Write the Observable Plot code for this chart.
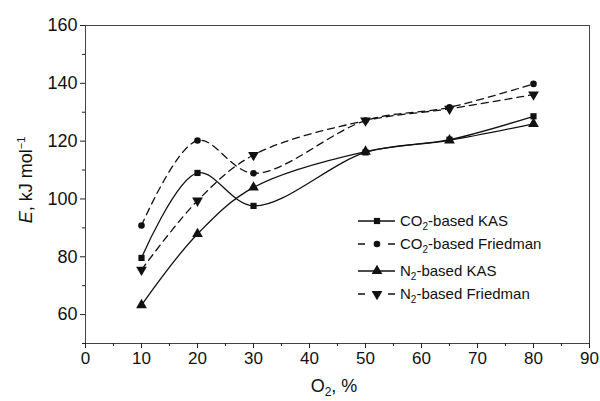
<!DOCTYPE html>
<html><head><meta charset="utf-8">
<script src="https://cdn.jsdelivr.net/npm/d3@7"></script>
<script src="https://cdn.jsdelivr.net/npm/@observablehq/plot@0.6"></script>
<style>body{margin:0;background:#fff} svg{display:block}</style>
</head><body><div id="chart"></div>
<script>
// Data
const o2 = [10, 20, 30, 50, 65, 80];
const co2KAS = [79.6, 109.0, 97.6, 116.1, 120.5, 128.6];
const co2Friedman = [90.8, 120.2, 108.9, 127.1, 131.7, 139.8];
const n2KAS = [63.3, 87.9, 104.0, 116.4, 120.3, 126.0];
const n2Friedman = [75.5, 99.4, 115.2, 127.1, 131.2, 136.1];
const seriesKeys = ["co2KAS", "co2Friedman", "n2KAS", "n2Friedman"];
const seriesGas = ["CO", "CO", "N", "N"];
const seriesMethod = ["KAS", "Friedman", "KAS", "Friedman"];
const xTicks = [0, 10, 20, 30, 40, 50, 60, 70, 80, 90];
const xMinorTicks = [5, 15, 25, 35, 45, 55, 65, 75, 85];
const yTicks = [60, 80, 100, 120, 140, 160];
const yMinorTicks = [50, 70, 90, 110, 130, 150];

const values = {co2KAS, co2Friedman, n2KAS, n2Friedman};
const styles = {
  co2KAS: {symbol: "square", r: 3.5, rotate: 0, dash: null},
  co2Friedman: {symbol: "circle", r: 3.3, rotate: 0, dash: "7,5"},
  n2KAS: {symbol: "triangle", r: 4.0, rotate: 0, dash: null},
  n2Friedman: {symbol: "triangle", r: 4.0, rotate: 180, dash: "7,5"}
};
const rows = seriesKeys.flatMap(k => o2.map((x, i) => ({key: k, o2: x, E: values[k][i]})));
const ink = "#111";

const marks = [
  Plot.frame({stroke: "#444", strokeWidth: 1}),
  Plot.axisX({ticks: xTicks, tickSize: 5, tickPadding: 3, label: null, fontSize: 17, stroke: "#222"}),
  Plot.axisX({ticks: xMinorTicks, tickSize: 3, tickFormat: () => "", label: null, stroke: "#222"}),
  Plot.axisY({ticks: yTicks, tickSize: 5, tickPadding: 3, label: null, fontSize: 18, stroke: "#222"}),
  Plot.axisY({ticks: yMinorTicks, tickSize: 3, tickFormat: () => "", label: null, stroke: "#222"})
];
for (const k of seriesKeys) {
  const s = styles[k];
  const d = rows.filter(r => r.key === k);
  marks.push(Plot.line(d, {x: "o2", y: "E", curve: "catmull-rom", stroke: ink, strokeWidth: 1.3, strokeDasharray: s.dash}));
  marks.push(Plot.dot(d, {x: "o2", y: "E", symbol: s.symbol, r: s.r, fill: ink, stroke: "none", rotate: s.rotate}));
}

const svg = Plot.plot({
  width: 600, height: 401,
  marginLeft: 85, marginRight: 11, marginTop: 25, marginBottom: 58,
  style: {fontFamily: "'Liberation Sans', Arial, sans-serif", fontSize: "16px", color: "#111", background: "#fff"},
  x: {domain: [0, 90]},
  y: {domain: [50, 160]},
  marks
});
document.getElementById("chart").appendChild(svg);

const g = d3.select(svg).append("g").attr("font-family", "'Liberation Sans', Arial, sans-serif").attr("fill", ink);

// Y axis title
const yt = g.append("text").attr("transform", "translate(32,180) rotate(-90)").attr("text-anchor", "middle").attr("font-size", 18);
yt.append("tspan").attr("font-style", "italic").text("E");
yt.append("tspan").text(", kJ mol");
yt.append("tspan").attr("font-size", 11).attr("dy", -7).text("\u22121");

// X axis title
const xt = g.append("text").attr("x", 334).attr("y", 392).attr("text-anchor", "middle").attr("font-size", 18);
xt.append("tspan").text("O");
xt.append("tspan").attr("font-size", 12).attr("dy", 4).text("2");
xt.append("tspan").attr("dy", -4).text(", %");

// Legend
const symPath = {
  square: d3.symbol(d3.symbolSquare, Math.PI * 3.5 * 3.5)(),
  circle: d3.symbol(d3.symbolCircle, Math.PI * 3.3 * 3.3)(),
  triangle: d3.symbol(d3.symbolTriangle, Math.PI * 4.0 * 4.0)()
};
const legendY = [221, 244, 271, 294];
seriesKeys.forEach((k, i) => {
  const s = styles[k];
  const y = legendY[i];
  const lg = g.append("g");
  if (s.dash) {
    lg.append("line").attr("x1", 358).attr("x2", 365).attr("y1", y).attr("y2", y).attr("stroke", ink).attr("stroke-width", 1.5);
    lg.append("line").attr("x1", 388).attr("x2", 395).attr("y1", y).attr("y2", y).attr("stroke", ink).attr("stroke-width", 1.5);
  } else {
    lg.append("line").attr("x1", 358).attr("x2", 395).attr("y1", y).attr("y2", y).attr("stroke", ink).attr("stroke-width", 1.4);
  }
  lg.append("path").attr("d", symPath[s.symbol]).attr("transform", `translate(377,${y}) rotate(${s.rotate})`).attr("fill", ink);
  const t = lg.append("text").attr("x", 400).attr("y", y + 5).attr("font-size", 15).attr("text-anchor", "start");
  t.append("tspan").text(seriesGas[i]);
  t.append("tspan").attr("font-size", 10).attr("dy", 4).text("2");
  t.append("tspan").attr("dy", -4).text("-based " + seriesMethod[i]);
});
</script>
</body></html>
